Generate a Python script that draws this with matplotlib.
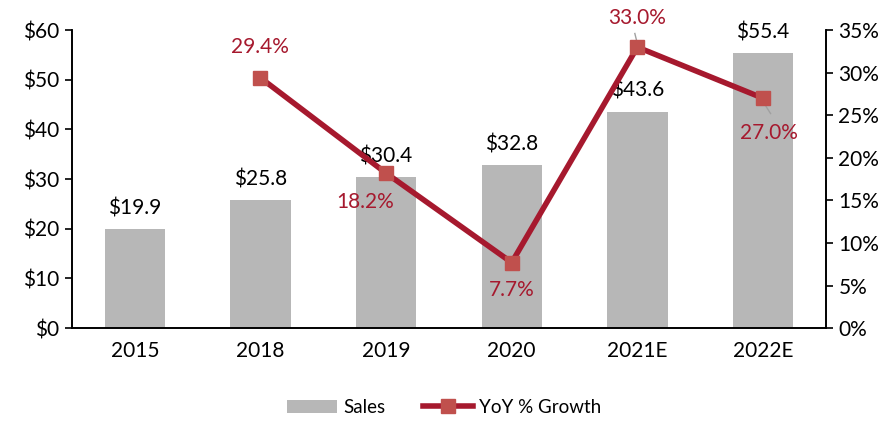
import matplotlib.pyplot as plt
import numpy as np

plt.rcParams['font.family'] = ['Lato', 'DejaVu Sans']

# dados
anos = ['2015', '2018', '2019', '2020', '2021E', '2022E']
vendas = [19.9, 25.8, 30.4, 32.8, 43.6, 55.4]
cresc_anos = ['2018', '2019', '2020', '2021E', '2022E']
cresc = [29.4, 18.2, 7.7, 33.0, 27.0]

VERMELHO = '#A6192E'
MARCADOR = '#C0504D'
CINZA = '#B7B7B7'
FS = 15

fig = plt.figure(figsize=(8.88, 4.30), dpi=100)
ax = fig.add_axes([0.081, 0.237, 0.849, 0.693])
ax2 = ax.twinx()

x = np.arange(len(anos))
barras = ax.bar(x, vendas, width=0.48, color=CINZA, label='Sales', zorder=1)
for xi, v in zip(x, vendas):
    ax.annotate(f'${v:.1f}', (xi, v), xytext=(0, 15), textcoords='offset points',
                ha='center', va='center', fontsize=FS)

xc = [anos.index(a) for a in cresc_anos]
linha, = ax2.plot(xc, cresc, color=VERMELHO, linewidth=4, marker='s', markersize=10,
                  markerfacecolor=MARCADOR, markeredgecolor=MARCADOR, label='YoY % Growth', zorder=3)

# posicoes dos rotulos da linha (deslocamento em pontos)
desl = {'2018': (0, 22), '2019': (-15, -21), '2020': (0, -20), '2021E': (0, 21), '2022E': (4, -25)}
for a, xi, v in zip(cresc_anos, xc, cresc):
    dx, dy = desl[a]
    ax2.annotate(f'{v:.1f}%', (xi, v), xytext=(dx, dy), textcoords='offset points',
                 ha='center', va='center', fontsize=FS, color=VERMELHO)
# linhas guia
ax2.plot([xc[3] - 0.02, xc[3]], [cresc[3] + 1.6, cresc[3] + 0.4], color='#A0A0A0', lw=1, zorder=2)
ax2.plot([xc[4], xc[4] + 0.06], [cresc[4] - 0.4, cresc[4] - 1.8], color='#A0A0A0', lw=1, zorder=2)

ax.set_xlim(-0.5, len(anos) - 0.5)
ax.set_ylim(0, 60)
ax.set_yticks(range(0, 61, 10))
ax.set_yticklabels([f'${v}' for v in range(0, 61, 10)])
ax2.set_ylim(0, 35)
ax2.set_yticks(range(0, 36, 5))
ax2.set_yticklabels([f'{v}%' for v in range(0, 36, 5)])
ax.set_xticks(x)
ax.set_xticklabels(anos)

for a in (ax, ax2):
    a.spines['top'].set_visible(False)
    a.tick_params(labelsize=FS, length=5, width=1.2)
    for s in ('left', 'right', 'bottom'):
        a.spines[s].set_linewidth(1.2)
ax.tick_params(axis='x', length=0, pad=9)
ax.tick_params(axis='y', pad=4)
ax2.tick_params(axis='y', pad=4)

fig.legend([barras, linha], ['Sales', 'YoY % Growth'], loc='center', bbox_to_anchor=(0.5, 0.053),
           ncol=2, frameon=False, fontsize=13.5, handlelength=2.7, columnspacing=2.0, handletextpad=0.3)

plt.savefig('out.png', dpi=100)
